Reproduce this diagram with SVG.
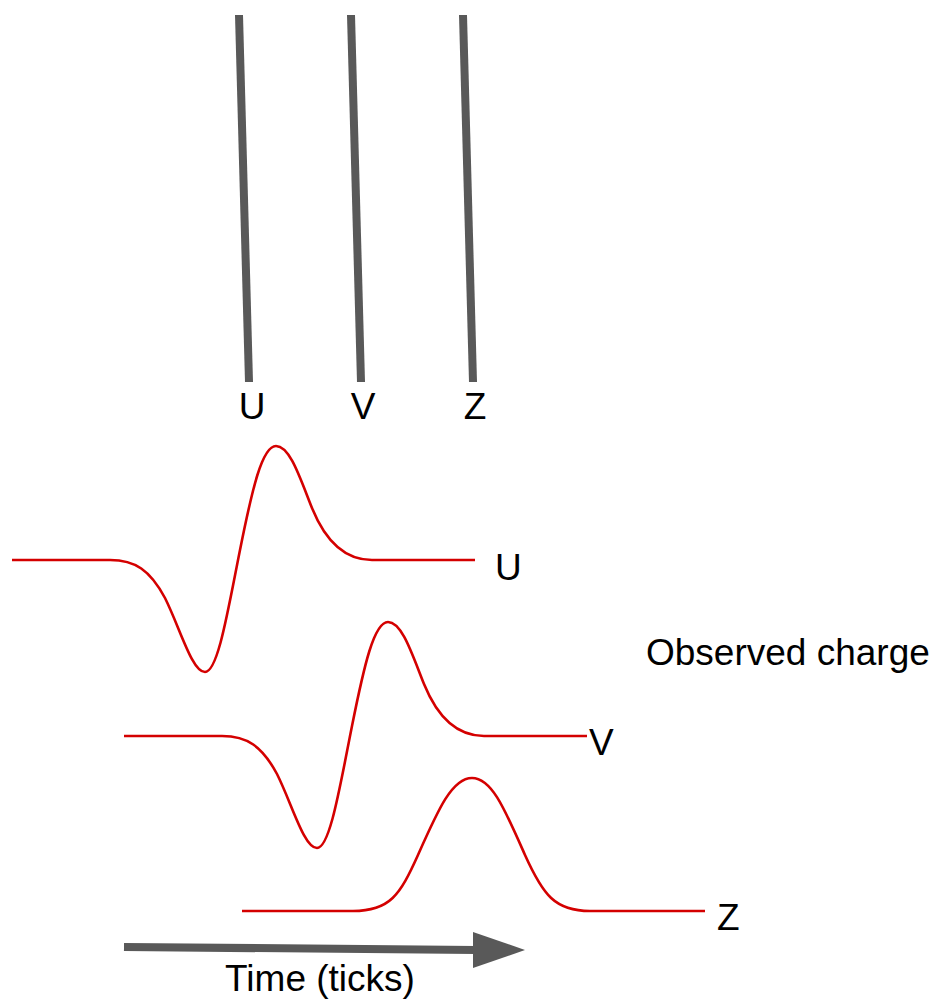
<svg xmlns="http://www.w3.org/2000/svg" width="936" height="1001" viewBox="0 0 936 1001">
<style>
.wire{stroke:#595959;stroke-width:8;fill:none}
.sig{stroke:#d40000;stroke-width:2.6;fill:none;stroke-linejoin:round}
.lbl{font-family:"Liberation Sans",Arial,sans-serif;font-size:37px;fill:#000}
</style>
<rect width="936" height="1001" fill="#fff"/>
<g id="wires">
<line class="wire" x1="239" y1="15" x2="249" y2="382"/>
<line class="wire" x1="351" y1="15" x2="361" y2="382"/>
<line class="wire" x1="463" y1="15" x2="473" y2="382"/>
</g>
<g id="wire-labels">
<text class="lbl" x="252" y="419" text-anchor="middle">U</text>
<text class="lbl" x="363" y="419" text-anchor="middle">V</text>
<text class="lbl" x="475" y="419" text-anchor="middle">Z</text>
</g>
<g id="signal-U">
<path class="sig" d="M12,560 H110 C135,560 150,570 165,598 C180,628 192,672 205,672 C218,672 228,610 240,550 C252,490 262,446 276,446 C290,446 300,478 312,508 C325,540 345,560 372,560 H475"/>
<text class="lbl" x="495" y="580">U</text>
</g>
<g id="signal-V">
<path class="sig" transform="translate(112,176)" d="M12,560 H110 C135,560 150,570 165,598 C180,628 192,672 205,672 C218,672 228,610 240,550 C252,490 262,446 276,446 C290,446 300,478 312,508 C325,540 345,560 372,560 H475"/>
<text class="lbl" x="589" y="755">V</text>
</g>
<g id="signal-Z">
<path class="sig" d="M242,911 H353 C390,911 400,895 418,855 C438,810 452,778 472,778 C492,778 505,810 525,855 C543,895 555,911 590,911 H705"/>
<text class="lbl" x="717" y="930">Z</text>
</g>
<text class="lbl" x="646" y="665">Observed charge</text>
<g id="connectors">
<line x1="124" y1="947" x2="476" y2="950" stroke="#595959" stroke-width="8"/>
<polygon points="473,932 525,950 473,968" fill="#595959"/>
</g>
<text class="lbl" x="320" y="991" text-anchor="middle">Time (ticks)</text>
</svg>
